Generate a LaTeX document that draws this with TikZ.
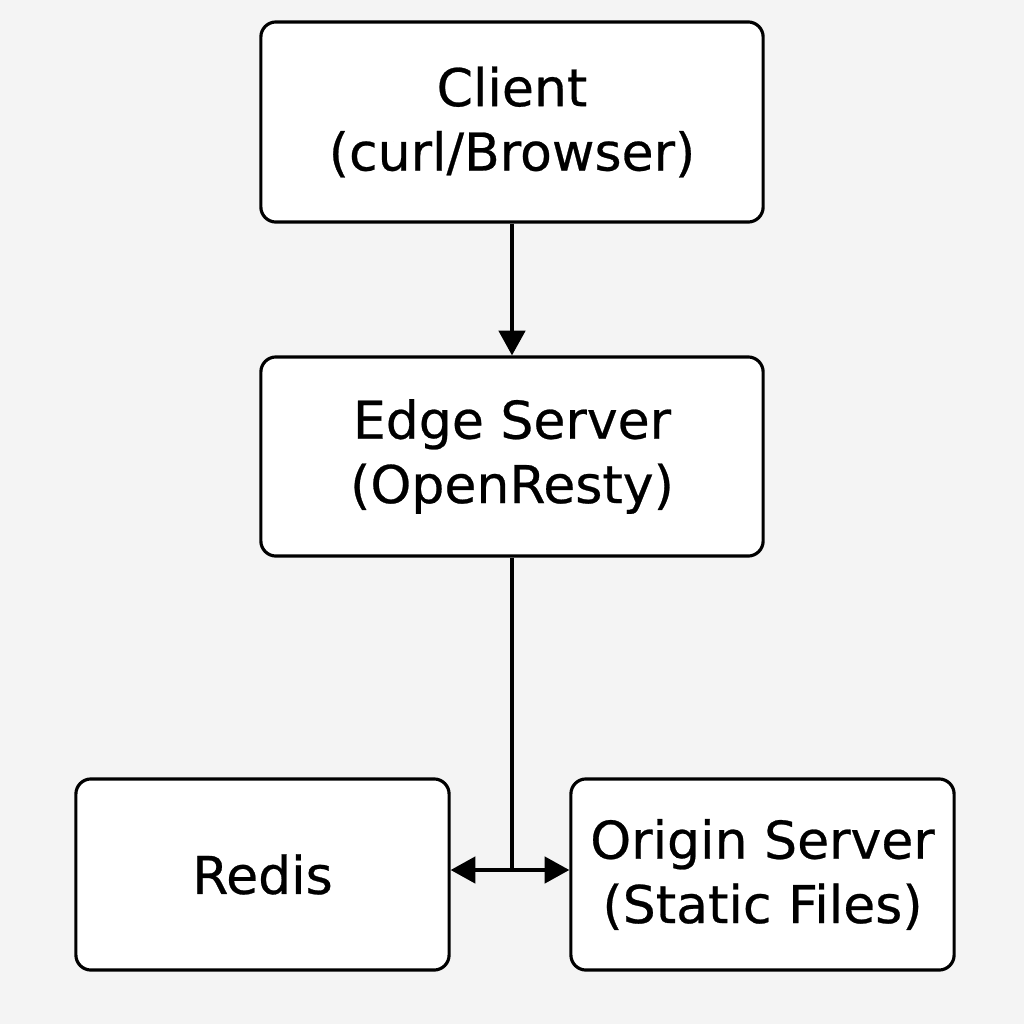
\documentclass[tikz,border=0pt]{standalone}
\usepackage{fontspec}
\setmainfont{DejaVu Sans}[UprightFeatures={FakeBold=0.5}]
\usetikzlibrary{arrows.meta}
\definecolor{bgcol}{HTML}{F4F4F4}
\tikzset{tip/.style={-{Triangle[length=7pt,width=7.5pt]}}}

\begin{document}
\begin{tikzpicture}[x=0.01cm,y=-0.01cm,line width=0.9pt]
\fill[bgcol] (0,0) rectangle (1024,1024);
\useasboundingbox (0,0) rectangle (1024,1024);

\begin{scope}[every node/.style={draw,fill=white,rounded corners=4.3pt,align=center,inner sep=0pt,font=\fontsize{14.8}{18.3}\selectfont}]
\node[minimum width=5.02cm,minimum height=2cm] (C) at (512,122) {Client\\(curl/Browser)};
\node[minimum width=5.02cm,minimum height=1.99cm] (E) at (512,456.5) {Edge Server\\(OpenResty)};
\node[minimum width=3.73cm,minimum height=1.91cm] (R) at (262.5,874.5) {Redis};
\node[minimum width=3.83cm,minimum height=1.91cm] (O) at (762.5,874.5) {Origin Server\\(Static Files)};
\end{scope}

\coordinate (S) at (512,870);
\draw (E) -- (S);

\begin{scope}[every edge/.style={draw}]
    \path [tip] (C) edge (E);
    \path [tip] (S) edge (S -| R.east);
    \path [tip] (S) edge (S -| O.west);
\end{scope}
\end{tikzpicture}
\end{document}
